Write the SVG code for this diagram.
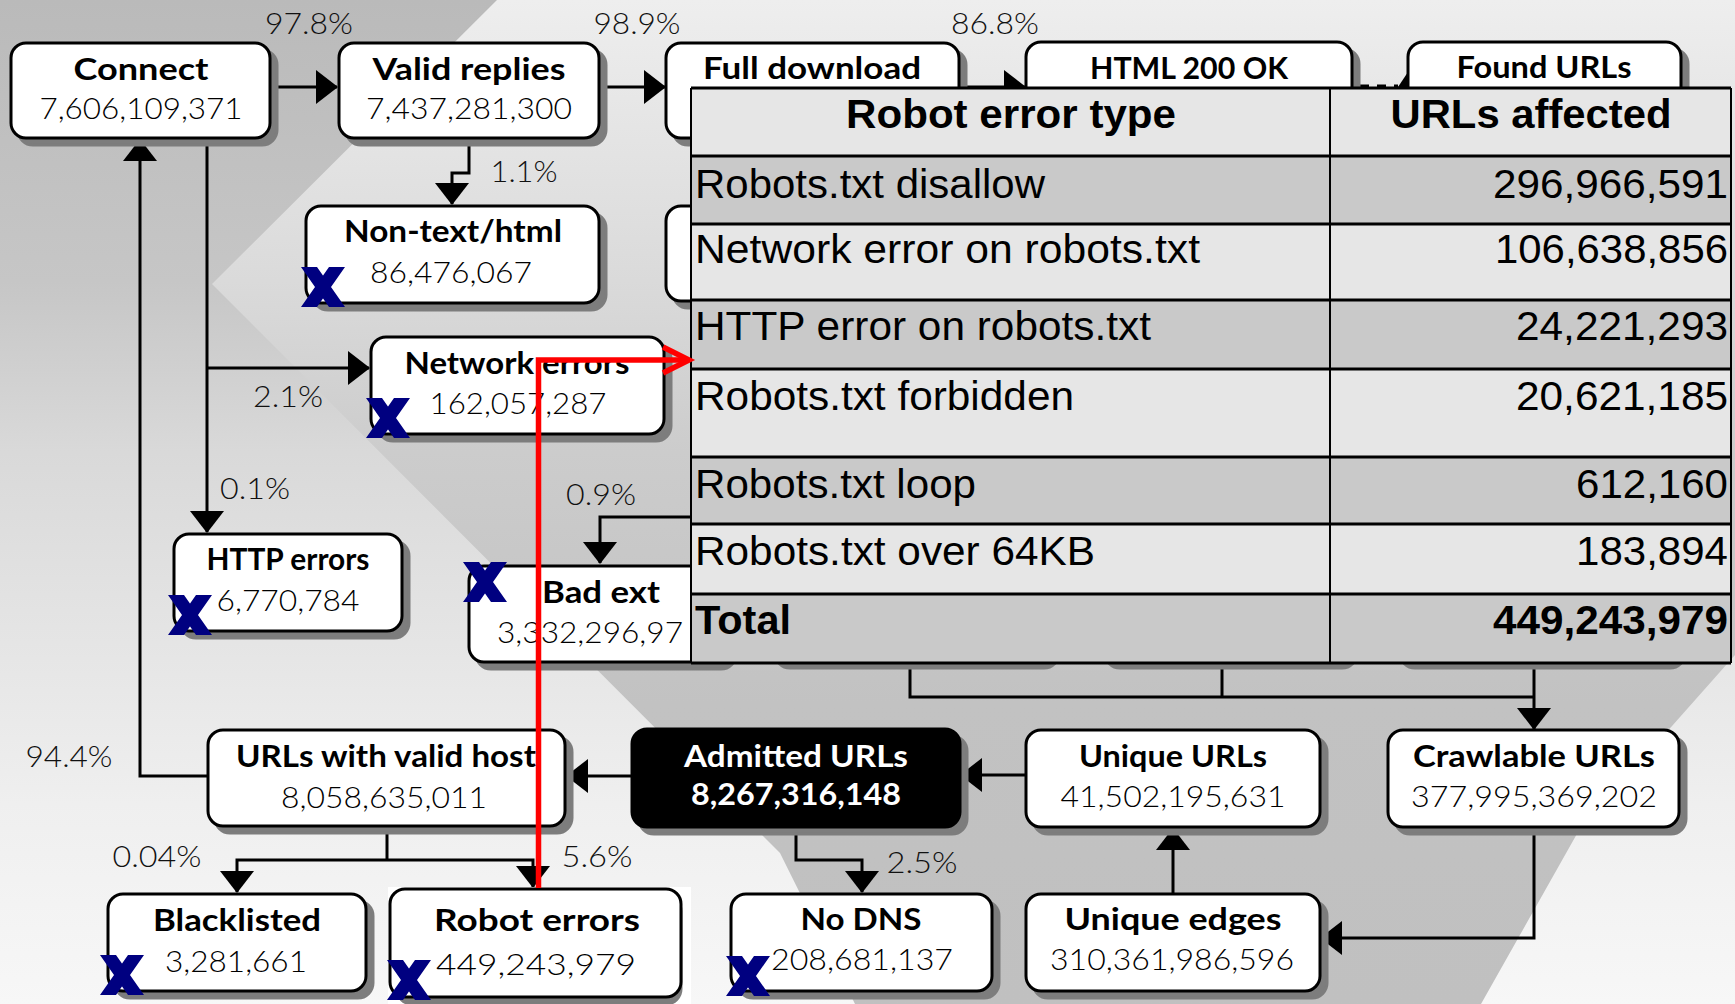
<svg xmlns="http://www.w3.org/2000/svg" width="1735" height="1004" viewBox="0 0 1735 1004">
  <defs>
    <linearGradient id="bgOuter" x1="0" y1="0" x2="0" y2="1004" gradientUnits="userSpaceOnUse">
      <stop offset="0" stop-color="#bababa"/>
      <stop offset="0.28" stop-color="#c6c6c6"/>
      <stop offset="0.45" stop-color="#d9d9d9"/>
      <stop offset="0.8" stop-color="#efefef"/>
      <stop offset="1" stop-color="#f7f7f7"/>
    </linearGradient>
    <linearGradient id="bgInner" x1="0" y1="0" x2="0" y2="1004" gradientUnits="userSpaceOnUse">
      <stop offset="0" stop-color="#eeeeee"/>
      <stop offset="0.28" stop-color="#dadada"/>
      <stop offset="0.45" stop-color="#cccccc"/>
      <stop offset="0.7" stop-color="#c2c2c2"/>
      <stop offset="1" stop-color="#c0c0c0"/>
    </linearGradient>
    <marker id="arrow" viewBox="0 0 22 34" refX="21" refY="17" markerWidth="22" markerHeight="34" markerUnits="userSpaceOnUse" orient="auto">
      <path d="M0,0 L22,17 L0,34 Z" fill="#000"/>
    </marker>
    <!-- discard mark: two solid bars with level-cut ends -->
    <path id="cross" d="M-22,-20 h16 L22,20 h-16 Z M6,-20 h16 L-6,20 h-16 Z" fill="#000080"/>
    <style>
      .box { fill: #fff; stroke: #000; stroke-width: 3; }
      .box.dark { fill: #000; }
      .shadow { fill: #7d7d7d; stroke: #7d7d7d; stroke-width: 3; }
      .edge { fill: none; stroke: #000; stroke-width: 3; }
      .t { font-family: Lato, "Liberation Sans", sans-serif; font-size: 30px; font-weight: 700; text-anchor: middle; fill: #000; }
      .n { font-family: Lato, "Liberation Sans", sans-serif; font-size: 30px; font-weight: 300; text-anchor: middle; fill: #000; }
      .w { fill: #fff; font-weight: 700; }
      .p { font-family: Lato, "Liberation Sans", sans-serif; font-size: 30px; font-weight: 300; text-anchor: middle; fill: #111; }
      .tc { font-family: "Liberation Sans", Arial, sans-serif; font-size: 41px; fill: #000; }
      .tc.b { font-weight: 700; }
      .tc.r { text-anchor: end; }
      .tc.m { text-anchor: middle; }
      .rowA { fill: #e6e6e6; }
      .rowB { fill: #c9c9c9; }
      .hl { stroke: #000; stroke-width: 3; }
      .vl { stroke: #000; stroke-width: 2; }
      .note { fill: none; stroke: #ff0000; stroke-width: 5.5; }
    </style>
  </defs>

  <!-- slide background: gradient with a large chevron/funnel band -->
  <g id="background">
    <rect x="0" y="0" width="1735" height="1004" fill="url(#bgOuter)"/>
    <polygon points="497,0 1735,0 1735,655 1578,832 1481,1004 855,1004 780,853 212,284" fill="url(#bgInner)"/>
  </g>

  <!-- connectors -->
  <g id="connectors">
    <path class="edge" d="M271,87 H337" marker-end="url(#arrow)"/>
    <path class="edge" d="M600,87 H665" marker-end="url(#arrow)"/>
    <path class="edge" d="M960,87 H1025" marker-end="url(#arrow)"/>
    <path class="edge" d="M1360,86 H1398" stroke-dasharray="9,8"/>
    <path d="M1398,87 L1408,72 L1418,87 Z" fill="#000"/>
    <path class="edge" d="M469,139 V173 H452 V204" marker-end="url(#arrow)"/>
    <path class="edge" d="M207,139 V532" marker-end="url(#arrow)"/>
    <path class="edge" d="M207,368 H369" marker-end="url(#arrow)"/>
    <path class="edge" d="M692,517 H600 V563" marker-end="url(#arrow)"/>
    <path class="edge" d="M208,776 H140 V140" marker-end="url(#arrow)"/>
    <path class="edge" d="M632,776 H567" marker-end="url(#arrow)"/>
    <path class="edge" d="M387,827 V860"/>
    <path class="edge" d="M387,860 H237 V892" marker-end="url(#arrow)"/>
    <path class="edge" d="M387,860 H533 V887" marker-end="url(#arrow)"/>
    <path class="edge" d="M796,828 V860 H862 V892" marker-end="url(#arrow)"/>
    <path class="edge" d="M1026,775 H961" marker-end="url(#arrow)"/>
    <path class="edge" d="M1173,894 V829" marker-end="url(#arrow)"/>
    <path class="edge" d="M1534,828 V938 H1321" marker-end="url(#arrow)"/>
    <path class="edge" d="M910,660 V697 H1534"/>
    <path class="edge" d="M1222,660 V697"/>
    <path class="edge" d="M1534,660 V729" marker-end="url(#arrow)"/>
  </g>

  <!-- percentage labels -->
  <g id="edge-labels">
    <text class="p" x="309" y="34" textLength="88" lengthAdjust="spacingAndGlyphs">97.8%</text>
    <text class="p" x="637" y="34" textLength="87" lengthAdjust="spacingAndGlyphs">98.9%</text>
    <text class="p" x="995" y="34" textLength="88" lengthAdjust="spacingAndGlyphs">86.8%</text>
    <text class="p" x="524" y="182" textLength="67" lengthAdjust="spacingAndGlyphs">1.1%</text>
    <text class="p" x="288" y="407" textLength="70" lengthAdjust="spacingAndGlyphs">2.1%</text>
    <text class="p" x="255" y="499" textLength="70" lengthAdjust="spacingAndGlyphs">0.1%</text>
    <text class="p" x="601" y="505" textLength="70" lengthAdjust="spacingAndGlyphs">0.9%</text>
    <text class="p" x="69" y="767" textLength="87" lengthAdjust="spacingAndGlyphs">94.4%</text>
    <text class="p" x="157" y="867" textLength="89" lengthAdjust="spacingAndGlyphs">0.04%</text>
    <text class="p" x="597" y="867" textLength="71" lengthAdjust="spacingAndGlyphs">5.6%</text>
    <text class="p" x="922" y="873" textLength="71" lengthAdjust="spacingAndGlyphs">2.5%</text>
  </g>

  <!-- nodes -->
  <g id="connect">
    <rect class="shadow" x="18" y="50" width="259" height="95" rx="15"/>
    <rect class="box" x="11" y="43" width="259" height="95" rx="15"/>
    <text class="t" x="141" y="80" textLength="135" lengthAdjust="spacingAndGlyphs">Connect</text>
    <text class="n" x="141" y="119" textLength="203" lengthAdjust="spacingAndGlyphs">7,606,109,371</text>
  </g>
  <g id="valid-replies">
    <rect class="shadow" x="346" y="50" width="260" height="95" rx="15"/>
    <rect class="box" x="339" y="43" width="260" height="95" rx="15"/>
    <text class="t" x="469" y="80" textLength="193" lengthAdjust="spacingAndGlyphs">Valid replies</text>
    <text class="n" x="469" y="119" textLength="206" lengthAdjust="spacingAndGlyphs">7,437,281,300</text>
  </g>
  <g id="full-download">
    <rect class="shadow" x="673" y="50" width="293" height="95" rx="15"/>
    <rect class="box" x="666" y="43" width="293" height="95" rx="15"/>
    <text class="t" x="812" y="79" textLength="218" lengthAdjust="spacingAndGlyphs">Full download</text>
  </g>
  <g id="html-200-ok">
    <rect class="shadow" x="1033" y="49" width="326" height="95" rx="15"/>
    <rect class="box" x="1026" y="42" width="326" height="95" rx="15"/>
    <text class="t" x="1189" y="79" textLength="198" lengthAdjust="spacingAndGlyphs">HTML 200 OK</text>
  </g>
  <g id="found-urls">
    <rect class="shadow" x="1415" y="49" width="273" height="95" rx="15"/>
    <rect class="box" x="1408" y="42" width="273" height="95" rx="15"/>
    <text class="t" x="1544" y="78" textLength="175" lengthAdjust="spacingAndGlyphs">Found URLs</text>
  </g>
  <g id="non-text-html">
    <rect class="shadow" x="313" y="213" width="293" height="97" rx="15"/>
    <rect class="box" x="306" y="206" width="293" height="97" rx="15"/>
    <text class="t" x="453" y="242" textLength="218" lengthAdjust="spacingAndGlyphs">Non-text/html</text>
    <text class="n" x="451" y="283" textLength="162" lengthAdjust="spacingAndGlyphs">86,476,067</text>
    <use href="#cross" x="323" y="287"/>
  </g>
  <g id="second-column-box">
    <rect class="shadow" x="673" y="213" width="293" height="95" rx="15"/>
    <rect class="box" x="666" y="206" width="293" height="95" rx="15"/>
  </g>
  <g id="network-errors">
    <rect class="shadow" x="378" y="344" width="293" height="97" rx="15"/>
    <rect class="box" x="371" y="337" width="293" height="97" rx="15"/>
    <text class="t" x="517" y="374" textLength="225" lengthAdjust="spacingAndGlyphs">Network errors</text>
    <text class="n" x="518" y="414" textLength="177" lengthAdjust="spacingAndGlyphs">162,057,287</text>
    <use href="#cross" x="388" y="418"/>
  </g>
  <g id="http-errors">
    <rect class="shadow" x="181" y="541" width="228" height="97" rx="15"/>
    <rect class="box" x="174" y="534" width="228" height="97" rx="15"/>
    <text class="t" x="288" y="570" textLength="163" lengthAdjust="spacingAndGlyphs">HTTP errors</text>
    <text class="n" x="288" y="611" textLength="143" lengthAdjust="spacingAndGlyphs">6,770,784</text>
    <use href="#cross" x="190" y="615"/>
  </g>
  <g id="hidden-row">
    <rect class="shadow" x="775" y="573" width="284" height="95" rx="15"/>
    <rect class="box" x="768" y="566" width="284" height="95" rx="15"/>
    <rect class="shadow" x="1105" y="573" width="252" height="95" rx="15"/>
    <rect class="box" x="1098" y="566" width="252" height="95" rx="15"/>
    <rect class="shadow" x="1400" y="573" width="285" height="95" rx="15"/>
    <rect class="box" x="1393" y="566" width="285" height="95" rx="15"/>
  </g>
  <g id="bad-ext">
    <rect class="shadow" x="476" y="573" width="260" height="96" rx="15"/>
    <rect class="box" x="469" y="566" width="260" height="96" rx="15"/>
    <text class="t" x="601" y="603" textLength="118" lengthAdjust="spacingAndGlyphs">Bad ext</text>
    <text class="n" x="497" y="643" style="text-anchor:start" textLength="186" lengthAdjust="spacingAndGlyphs">3,332,296,97</text>
    <use href="#cross" x="485" y="582"/>
  </g>
  <g id="urls-with-valid-host">
    <rect class="shadow" x="215" y="737" width="357" height="96" rx="15"/>
    <rect class="box" x="208" y="730" width="357" height="96" rx="15"/>
    <text class="t" x="386" y="767" textLength="300" lengthAdjust="spacingAndGlyphs">URLs with valid host</text>
    <text class="n" x="384" y="808" textLength="206" lengthAdjust="spacingAndGlyphs">8,058,635,011</text>
  </g>
  <g id="admitted-urls">
    <rect class="shadow" x="639" y="736" width="328" height="98" rx="15"/>
    <rect class="box dark" x="632" y="729" width="328" height="98" rx="15"/>
    <text class="t w" x="796" y="767" textLength="224" lengthAdjust="spacingAndGlyphs">Admitted URLs</text>
    <text class="n w" x="796" y="805" textLength="210" lengthAdjust="spacingAndGlyphs">8,267,316,148</text>
  </g>
  <g id="unique-urls">
    <rect class="shadow" x="1033" y="737" width="294" height="97" rx="15"/>
    <rect class="box" x="1026" y="730" width="294" height="97" rx="15"/>
    <text class="t" x="1173" y="767" textLength="188" lengthAdjust="spacingAndGlyphs">Unique URLs</text>
    <text class="n" x="1173" y="807" textLength="225" lengthAdjust="spacingAndGlyphs">41,502,195,631</text>
  </g>
  <g id="crawlable-urls">
    <rect class="shadow" x="1395" y="737" width="291" height="97" rx="15"/>
    <rect class="box" x="1388" y="730" width="291" height="97" rx="15"/>
    <text class="t" x="1534" y="767" textLength="242" lengthAdjust="spacingAndGlyphs">Crawlable URLs</text>
    <text class="n" x="1534" y="807" textLength="246" lengthAdjust="spacingAndGlyphs">377,995,369,202</text>
  </g>
  <g id="blacklisted">
    <rect class="shadow" x="115" y="901" width="258" height="97" rx="15"/>
    <rect class="box" x="108" y="894" width="258" height="97" rx="15"/>
    <text class="t" x="237" y="931" textLength="168" lengthAdjust="spacingAndGlyphs">Blacklisted</text>
    <text class="n" x="236" y="972" textLength="142" lengthAdjust="spacingAndGlyphs">3,281,661</text>
    <use href="#cross" x="122" y="975"/>
  </g>
  <g id="robot-errors">
    <rect x="388" y="887" width="303" height="117" fill="#fff"/>
    <rect class="shadow" x="397" y="896" width="284" height="108" rx="15"/>
    <rect class="box" x="390" y="889" width="291" height="108" rx="15"/>
    <text class="t" x="537" y="931" textLength="206" lengthAdjust="spacingAndGlyphs">Robot errors</text>
    <text class="n" x="536" y="975" textLength="200" lengthAdjust="spacingAndGlyphs">449,243,979</text>
    <use href="#cross" x="409" y="980"/>
  </g>
  <g id="no-dns">
    <rect class="shadow" x="738" y="901" width="261" height="97" rx="15"/>
    <rect class="box" x="731" y="894" width="261" height="97" rx="15"/>
    <text class="t" x="861" y="930" textLength="121" lengthAdjust="spacingAndGlyphs">No DNS</text>
    <text class="n" x="862" y="970" textLength="182" lengthAdjust="spacingAndGlyphs">208,681,137</text>
    <use href="#cross" x="748" y="976"/>
  </g>
  <g id="unique-edges">
    <rect class="shadow" x="1033" y="901" width="294" height="97" rx="15"/>
    <rect class="box" x="1026" y="894" width="294" height="97" rx="15"/>
    <text class="t" x="1173" y="930" textLength="217" lengthAdjust="spacingAndGlyphs">Unique edges</text>
    <text class="n" x="1172" y="970" textLength="244" lengthAdjust="spacingAndGlyphs">310,361,986,596</text>
  </g>

  <!-- robot error breakdown table -->
  <g id="robot-error-table">
    <rect class="rowA" x="691" y="88" width="1040" height="68"/>
    <rect class="rowB" x="691" y="156" width="1040" height="68"/>
    <rect class="rowA" x="691" y="224" width="1040" height="76"/>
    <rect class="rowB" x="691" y="300" width="1040" height="69"/>
    <rect class="rowA" x="691" y="369" width="1040" height="88"/>
    <rect class="rowB" x="691" y="457" width="1040" height="67"/>
    <rect class="rowA" x="691" y="524" width="1040" height="70"/>
    <rect class="rowB" x="691" y="594" width="1040" height="69"/>
    <path class="hl" d="M691,88 H1731 M691,156 H1731 M691,224 H1731 M691,300 H1731 M691,369 H1731 M691,457 H1731 M691,524 H1731 M691,594 H1731 M691,663 H1731"/>
    <path class="vl" d="M691,88 V663 M1330,88 V663 M1731,88 V663"/>
    <text class="tc b m" x="1011" y="128" textLength="330" lengthAdjust="spacingAndGlyphs">Robot error type</text>
    <text class="tc b m" x="1531" y="128" textLength="281" lengthAdjust="spacingAndGlyphs">URLs affected</text>
    <text class="tc" x="695" y="198" textLength="350" lengthAdjust="spacingAndGlyphs">Robots.txt disallow</text>
    <text class="tc r" x="1728" y="198" textLength="235" lengthAdjust="spacingAndGlyphs">296,966,591</text>
    <text class="tc" x="695" y="263" textLength="505" lengthAdjust="spacingAndGlyphs">Network error on robots.txt</text>
    <text class="tc r" x="1728" y="263" textLength="233" lengthAdjust="spacingAndGlyphs">106,638,856</text>
    <text class="tc" x="695" y="340" textLength="456" lengthAdjust="spacingAndGlyphs">HTTP error on robots.txt</text>
    <text class="tc r" x="1728" y="340" textLength="212" lengthAdjust="spacingAndGlyphs">24,221,293</text>
    <text class="tc" x="695" y="410" textLength="379" lengthAdjust="spacingAndGlyphs">Robots.txt forbidden</text>
    <text class="tc r" x="1728" y="410" textLength="212" lengthAdjust="spacingAndGlyphs">20,621,185</text>
    <text class="tc" x="695" y="498" textLength="281" lengthAdjust="spacingAndGlyphs">Robots.txt loop</text>
    <text class="tc r" x="1728" y="498" textLength="152" lengthAdjust="spacingAndGlyphs">612,160</text>
    <text class="tc" x="695" y="565" textLength="400" lengthAdjust="spacingAndGlyphs">Robots.txt over 64KB</text>
    <text class="tc r" x="1728" y="565" textLength="152" lengthAdjust="spacingAndGlyphs">183,894</text>
    <text class="tc b" x="695" y="634" textLength="96" lengthAdjust="spacingAndGlyphs">Total</text>
    <text class="tc b r" x="1728" y="634" textLength="235" lengthAdjust="spacingAndGlyphs">449,243,979</text>
  </g>

  <!-- red call-out linking Robot errors to the table -->
  <g id="robot-errors-callout">
    <path class="note" d="M538.5,888 V360 H688"/>
    <polyline class="note" points="663,347 689,360 663,373"/>
  </g>
</svg>
